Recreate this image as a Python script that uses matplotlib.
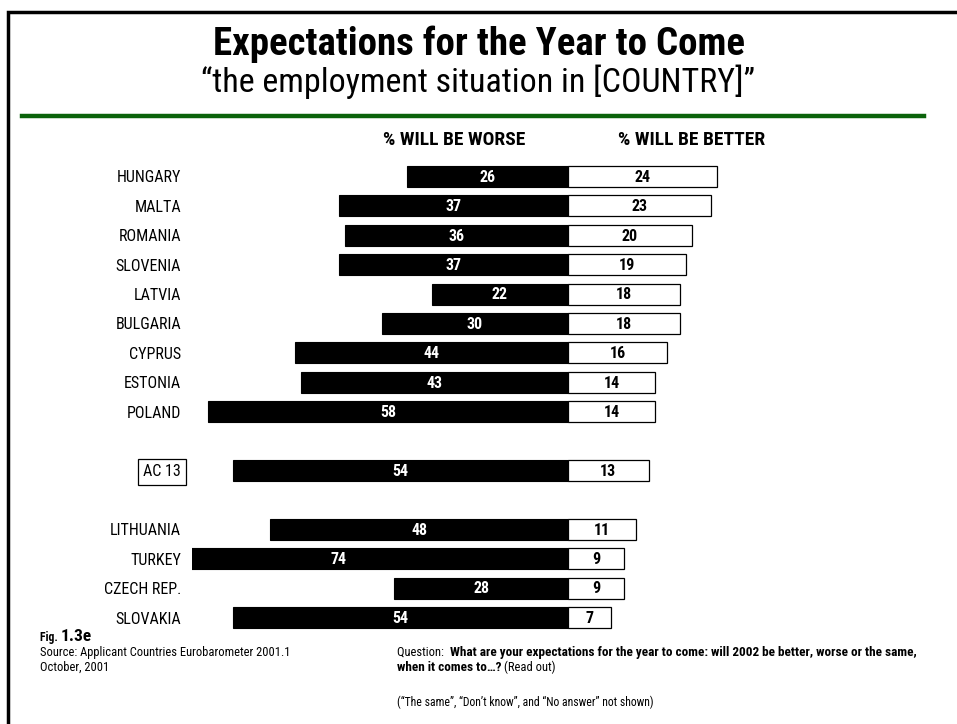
import matplotlib.pyplot as plt
from matplotlib.patches import Rectangle
from matplotlib.lines import Line2D

plt.rcParams['font.family'] = ['Roboto Condensed', 'DejaVu Sans']

countries = ['HUNGARY', 'MALTA', 'ROMANIA', 'SLOVENIA', 'LATVIA', 'BULGARIA', 'CYPRUS',
             'ESTONIA', 'POLAND', 'AC 13', 'LITHUANIA', 'TURKEY', 'CZECH REP.', 'SLOVAKIA']
worse = [26, 37, 36, 37, 22, 30, 44, 43, 58, 54, 48, 74, 28, 54]
better = [24, 23, 20, 19, 18, 18, 16, 14, 14, 13, 11, 9, 9, 7]
# row slots, leaving gaps around the AC 13 average
rows = [0, 1, 2, 3, 4, 5, 6, 7, 8, 10, 12, 13, 14, 15]

W, H = 957, 724
fig = plt.figure(figsize=(W / 100, H / 100), dpi=100)


def fx(x):
    return x / W


def fy(y):
    return 1 - y / H


# page frame (runs off the right and bottom edges)
fig.add_artist(Rectangle((fx(8), fy(760)), fx(1000), fy(12) - fy(760), transform=fig.transFigure,
                         fill=False, edgecolor='black', linewidth=2.5))
fig.add_artist(Line2D([fx(22), fx(924)], [fy(116), fy(116)], color='#0b630b', linewidth=3.2))

fig.text(fx(479), fy(55), 'Expectations for the Year to Come', ha='center', va='baseline',
         fontsize=28, fontweight='bold')
fig.text(fx(478), fy(92), '\u201cthe employment situation in [COUNTRY]\u201d', ha='center', va='baseline',
         fontsize=24.5)
fig.text(fx(454), fy(140), '% WILL BE WORSE', ha='center', va='center', fontsize=14, fontweight='bold')
fig.text(fx(692), fy(140), '% WILL BE BETTER', ha='center', va='center', fontsize=14, fontweight='bold')

# bars: 568 px is the zero line, about 6.2 px per point
x0, unit = 568, 6.2
left, right = 192, 800
top, bottom = 160, 636
ax = fig.add_axes([fx(left), fy(bottom), fx(right - left), fy(top) - fy(bottom)])
ax.set_xlim(-(x0 - left) / unit, (right - x0) / unit)
ax.set_ylim(15 + (bottom - 617.5) / 29.4, -(176.5 - top) / 29.4)

ax.barh(rows, [-v for v in worse], height=0.72, color='black', edgecolor='black', linewidth=0.8)
ax.barh(rows, better, height=0.72, color='white', edgecolor='black', linewidth=0.9)

for r, w, b in zip(rows, worse, better):
    ax.text(-w / 2, r + 0.03, str(w), ha='center', va='center', color='white', fontsize=11.5,
            fontweight='bold', clip_on=False)
    ax.text(b / 2, r + 0.03, str(b), ha='center', va='center', color='black', fontsize=11.5,
            fontweight='bold')

ax.set_yticks(rows)
ax.set_yticklabels(countries, fontsize=11.5)
ax.tick_params(axis='y', length=0, pad=8)
ax.set_xticks([])
for s in ax.spines.values():
    s.set_visible(False)
ax.patch.set_visible(False)
for lab in ax.get_yticklabels():
    if lab.get_text() == 'AC 13':
        lab.set_bbox(dict(facecolor='white', edgecolor='black', linewidth=0.9, pad=4))

# footer notes
f1 = fig.text(fx(40), fy(641), 'Fig. ', fontsize=8.5, fontweight='bold', va='baseline')
ax.annotate('1.3e', xy=(1, 0), xycoords=f1, va='bottom', fontsize=12.5, fontweight='bold')
fig.text(fx(40), fy(656), 'Source: Applicant Countries Eurobarometer 2001.1', fontsize=9, va='baseline')
fig.text(fx(40), fy(671), 'October, 2001', fontsize=9, va='baseline')

q1 = fig.text(fx(397), fy(656), 'Question:  ', fontsize=9, va='baseline')
ax.annotate('What are your expectations for the year to come: will 2002 be better, worse or the same,',
            xy=(1, 0), xycoords=q1, va='bottom', fontsize=9.5, fontweight='bold')
q2 = fig.text(fx(397), fy(671), 'when it comes to\u2026? ', fontsize=9.5, fontweight='bold', va='baseline')
ax.annotate('(Read out)', xy=(1, 0), xycoords=q2, va='bottom', fontsize=9)
fig.text(fx(397), fy(706), '(\u201cThe same\u201d, \u201cDon\u2019t know\u201d, and \u201cNo answer\u201d not shown)',
         fontsize=8.5, va='baseline')

fig.savefig('out.png', dpi=100)
